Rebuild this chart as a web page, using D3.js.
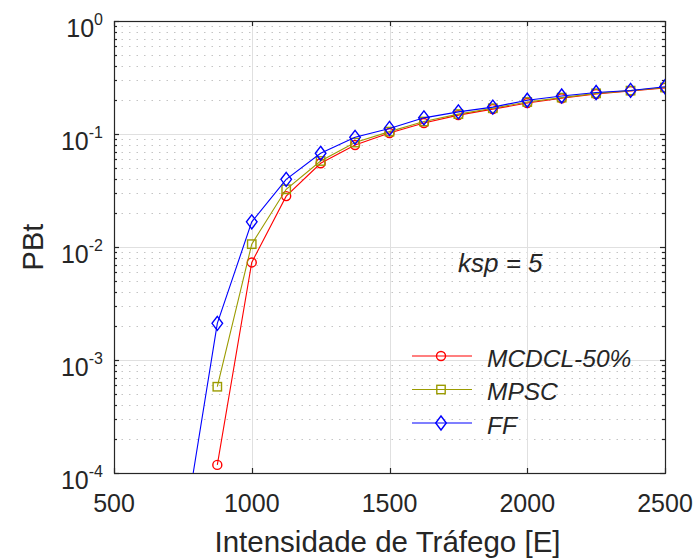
<!DOCTYPE html>
<html>
<head>
<meta charset="utf-8">
<script src="https://cdn.jsdelivr.net/npm/d3@7"></script>
<style>
  body { margin: 0; background: #fff; }
  text { font-family: "Liberation Sans", Arial, sans-serif; fill: #262626; }
</style>
</head>
<body>
<div id="chart"></div>
<script>
// traffic load values (Erlang)
var loads = [750, 875, 1000, 1125, 1250, 1375, 1500, 1625, 1750, 1875, 2000, 2125, 2250, 2375, 2500];
// blocking probability per algorithm (null = zero, not drawn on log axis)
var mcdcl = [null, 1.18e-4, 7.3e-3, 0.0282, 0.0551, 0.080, 0.102, 0.125, 0.147, 0.166, 0.188, 0.207, 0.226, 0.240, 0.256];
var mpsc  = [null, 5.8e-4, 0.0106, 0.0324, 0.0577, 0.084, 0.105, 0.129, 0.150, 0.169, 0.192, 0.210, 0.229, 0.242, 0.258];
var ff    = [2.7e-5, 2.11e-3, 0.0167, 0.0397, 0.0675, 0.0935, 0.112, 0.139, 0.157, 0.173, 0.199, 0.217, 0.233, 0.243, 0.262];
var seriesNames = ['MCDCL-50%', 'MPSC', 'FF'];
var xTicks = [500, 1000, 1500, 2000, 2500];
var yExponents = [-4, -3, -2, -1, 0];

var width = 697, height = 559;
var margin = { top: 21, right: 32, bottom: 86, left: 114 };
var innerW = width - margin.left - margin.right,
    innerH = height - margin.top - margin.bottom;

var svg = d3.select("#chart").append("svg")
  .attr("width", width)
  .attr("height", height);

var x = d3.scaleLinear().domain([500, 2500]).range([0, innerW]);
var y = d3.scaleLog().domain([1e-4, 1]).range([innerH, 0]);

var g = svg.append("g")
  .attr("transform", "translate(" + margin.left + "," + margin.top + ")");

g.append("clipPath").attr("id", "clip")
  .append("rect").attr("width", innerW).attr("height", innerH);

// minor y grid (dotted)
var minorVals = [];
yExponents.slice(0, -1).forEach(function (e) {
  for (var k = 2; k <= 9; k++) minorVals.push(k * Math.pow(10, e));
});
g.append("g").selectAll("line").data(minorVals).enter().append("line")
  .attr("x1", 0).attr("x2", innerW)
  .attr("y1", function (d) { return Math.round(y(d)) + 0.5; })
  .attr("y2", function (d) { return Math.round(y(d)) + 0.5; })
  .attr("stroke", "#c4c4c4")
  .attr("stroke-width", 1)
  .attr("stroke-dasharray", "1.5,6");

// major grid
g.append("g").selectAll("line").data(yExponents).enter().append("line")
  .attr("x1", 0).attr("x2", innerW)
  .attr("y1", function (d) { return Math.round(y(Math.pow(10, d))) + 0.5; })
  .attr("y2", function (d) { return Math.round(y(Math.pow(10, d))) + 0.5; })
  .attr("stroke", "#e0e0e0");
g.append("g").selectAll("line").data(xTicks).enter().append("line")
  .attr("y1", 0).attr("y2", innerH)
  .attr("x1", function (d) { return Math.round(x(d)) + 0.5; })
  .attr("x2", function (d) { return Math.round(x(d)) + 0.5; })
  .attr("stroke", "#e0e0e0");

// axes box + ticks
var axisColor = "#262626";
g.append("rect").attr("x", 0.5).attr("y", 0.5)
  .attr("width", innerW).attr("height", innerH)
  .attr("fill", "none").attr("stroke", axisColor).attr("stroke-width", 1.2);

var ticks = g.append("g").attr("stroke", axisColor).attr("stroke-width", 1.2);
xTicks.forEach(function (t) {
  var px = Math.round(x(t)) + 0.5;
  ticks.append("line").attr("x1", px).attr("x2", px).attr("y1", innerH).attr("y2", innerH - 5);
  ticks.append("line").attr("x1", px).attr("x2", px).attr("y1", 0).attr("y2", 5);
});
yExponents.forEach(function (e) {
  var py = Math.round(y(Math.pow(10, e))) + 0.5;
  ticks.append("line").attr("x1", 0).attr("x2", 5).attr("y1", py).attr("y2", py);
  ticks.append("line").attr("x1", innerW).attr("x2", innerW - 5).attr("y1", py).attr("y2", py);
});
minorVals.forEach(function (v) {
  var py = Math.round(y(v)) + 0.5;
  ticks.append("line").attr("x1", 0).attr("x2", 3).attr("y1", py).attr("y2", py);
  ticks.append("line").attr("x1", innerW).attr("x2", innerW - 3).attr("y1", py).attr("y2", py);
});

// tick labels
g.append("g").selectAll("text").data(xTicks).enter().append("text")
  .attr("x", function (d) { return x(d); })
  .attr("y", innerH + 39)
  .attr("text-anchor", "middle")
  .attr("font-size", 25)
  .text(function (d) { return d; });

var yl = g.append("g").selectAll("text").data(yExponents).enter().append("text")
  .attr("x", -11)
  .attr("y", function (d) { return y(Math.pow(10, d)) + 16; })
  .attr("text-anchor", "end")
  .attr("font-size", 25);
yl.append("tspan").text("10");
yl.append("tspan").attr("font-size", 16).attr("dy", -12)
  .text(function (d) { return d < 0 ? "-" + (-d) : d; });

// axis titles
svg.append("text")
  .attr("x", margin.left + innerW / 2 - 2)
  .attr("y", 552)
  .attr("text-anchor", "middle")
  .attr("font-size", 29.5)
  .text("Intensidade de Tráfego [E]");
svg.append("text")
  .attr("transform", "translate(43," + (margin.top + innerH / 2) + ") rotate(-90)")
  .attr("text-anchor", "middle")
  .attr("font-size", 29)
  .text("PBt");

// series
var series = [
  { name: seriesNames[0], values: mcdcl, color: "#ff0000", marker: "circle" },
  { name: seriesNames[1], values: mpsc, color: "#9b9b00", marker: "square" },
  { name: seriesNames[2], values: ff, color: "#0000ff", marker: "diamond" }
];

function drawMarker(sel, type, color) {
  if (type === "circle") {
    sel.append("circle").attr("r", 4.5);
  } else if (type === "square") {
    sel.append("rect").attr("x", -4.2).attr("y", -4.2).attr("width", 8.4).attr("height", 8.4);
  } else {
    sel.append("path").attr("d", "M0,-7L5.3,0L0,7L-5.3,0Z");
  }
  sel.selectAll("*").attr("fill", "none").attr("stroke", color).attr("stroke-width", 1.4);
}

var line = d3.line()
  .defined(function (d) { return d.v != null; })
  .x(function (d) { return x(d.x); })
  .y(function (d) { return y(d.v); });

var plot = g.append("g").attr("clip-path", "url(#clip)");
series.forEach(function (s) {
  var pts = loads.map(function (l, i) { return { x: l, v: s.values[i] }; });
  plot.append("path").datum(pts)
    .attr("d", line)
    .attr("fill", "none")
    .attr("stroke", s.color)
    .attr("stroke-width", 1.1);
  pts.filter(function (p) { return p.v != null; }).forEach(function (p) {
    var m = plot.append("g").attr("transform", "translate(" + x(p.x) + "," + y(p.v) + ")");
    drawMarker(m, s.marker, s.color);
  });
});

// annotation
g.append("text")
  .attr("x", 344)
  .attr("y", 251)
  .attr("font-size", 26)
  .attr("font-style", "italic")
  .text("ksp = 5");

// legend
var legend = svg.append("g").attr("transform", "translate(412,356)");
series.forEach(function (s, i) {
  var row = legend.append("g").attr("transform", "translate(0," + (i * 33.5) + ")");
  row.append("line").attr("x1", 0).attr("x2", 60).attr("y1", 0).attr("y2", 0)
    .attr("stroke", s.color).attr("stroke-width", 1.1);
  var m = row.append("g").attr("transform", "translate(29,0)");
  drawMarker(m, s.marker, s.color);
  row.append("text")
    .attr("x", 75).attr("y", 10.5)
    .attr("font-size", 24.5)
    .attr("font-style", "italic")
    .text(s.name);
});
</script>
</body>
</html>
